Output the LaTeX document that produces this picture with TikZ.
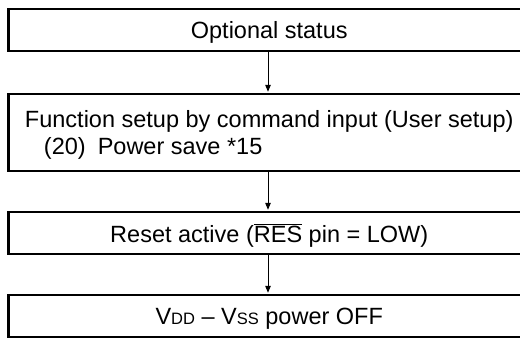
\documentclass[tikz,border=0pt]{standalone}
\usepackage{fontspec}
\setmainfont{Liberation Sans}
\usetikzlibrary{arrows.meta}
\newcommand{\smallcap}[1]{{\fontsize{16.5pt}{16.5pt}\selectfont #1}}
\begin{document}
\begin{tikzpicture}[x=1pt,y=-1pt,
  box/.style={draw=black,line width=2.2pt,rectangle,inner sep=0pt,text depth=0pt,
    minimum width=521.5pt,font=\fontsize{23.5pt}{27pt}\selectfont},
  flow/.style={line width=1pt,-{Triangle[length=7pt,width=5.5pt]},shorten >=1.1pt}]
\useasboundingbox (0,0) rectangle (520,338);
\begin{scope}
\clip (0,0) rectangle (520,338);
\node[box,minimum height=42pt] (b1) at (269.25,30) {Optional status};
\node[box,minimum height=77pt,align=left] (b2) at (269.25,132.5)
  {Function setup by command input (User setup)\\\hspace{19pt}(20)\hspace{12pt}Power save *15};
\node[box,minimum height=42pt] (b3) at (269.25,233) {Reset active ($\overline{\hbox{RES}}$ pin = LOW)};
\node[box,minimum height=42pt] (b4) at (269.25,316) {V\smallcap{DD} -- V\smallcap{SS} power OFF};
\end{scope}
\coordinate (ax) at (268,0);
\draw[flow] (b1.south -| ax) -- (b2.north -| ax);
\draw[flow] (b2.south -| ax) -- (b3.north -| ax);
\draw[flow] (b3.south -| ax) -- (b4.north -| ax);
\end{tikzpicture}
\end{document}
